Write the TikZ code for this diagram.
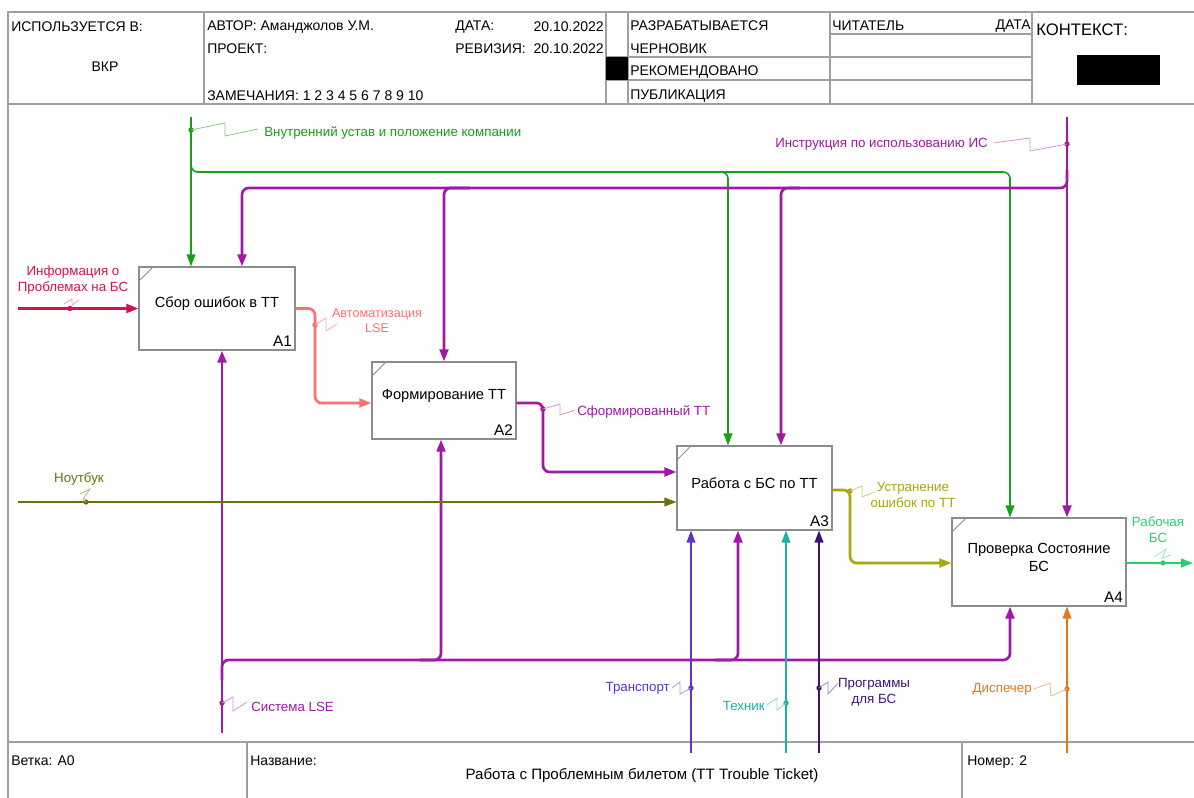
\documentclass[tikz,border=0pt]{standalone}
\usepackage{fontspec}
\setmainfont{Liberation Sans}
\usetikzlibrary{arrows.meta,calc}
\definecolor{framegray}{RGB}{160,160,160}
\definecolor{boxgray}{RGB}{140,140,140}
\definecolor{cred}{RGB}{212,20,72}
\definecolor{csalmon}{RGB}{255,112,112}
\definecolor{cpurple}{RGB}{160,24,165}
\definecolor{cgreen}{RGB}{24,160,24}
\definecolor{colive}{RGB}{110,110,20}
\definecolor{colivel}{RGB}{168,168,10}
\definecolor{cgreenl}{RGB}{40,208,110}
\definecolor{ctrans}{RGB}{92,52,200}
\definecolor{ctech}{RGB}{30,172,172}
\definecolor{cprog}{RGB}{62,20,112}
\definecolor{cdisp}{RGB}{225,120,30}
\tikzset{
  frameline/.style={draw=framegray, line width=0.8pt},
  hdr/.style={font=\fontsize{10.5}{12}\selectfont, inner sep=0pt},
  lbl/.style={font=\fontsize{10}{12}\selectfont, inner sep=0pt, align=center},
  fbox/.style={draw=boxgray, line width=0.8pt, fill=white, rectangle, inner sep=0pt},
  btext/.style={font=\fontsize{11}{14}\selectfont, align=center, yshift=3.5pt},
  anum/.style={font=\fontsize{11.5}{13}\selectfont, anchor=south east, inner sep=2.5pt},
  arr/.style={-{Triangle[length=9pt,width=6.5pt]}},
  thickc/.style={line width=2pt},
  thinc/.style={line width=1.2pt},
  rc/.style={rounded corners=5pt},
  sq/.style={line width=0.6pt},
  dotc/.style={radius=2pt},
}
\begin{document}
\begin{tikzpicture}[x=0.75pt,y=-0.75pt]
\useasboundingbox (0,0) rectangle (1194,798);
\clip (0,0) rectangle (1194,798);
\fill[white] (0,0) rectangle (1194,798);
% frame
\draw[frameline] (8,805) -- (8,12) -- (1200,12);
\draw[frameline] (8,104) -- (1200,104);
\draw[frameline] (8,742) -- (1200,742);
\draw[frameline] (204,12) -- (204,104);
\draw[frameline] (606,12) -- (606,104);
\draw[frameline] (628,12) -- (628,104);
\draw[frameline] (830,12) -- (830,104);
\draw[frameline] (1032,12) -- (1032,104);
\draw[frameline] (830,34) -- (1032,34);
\draw[frameline] (606,57) -- (1032,57);
\draw[frameline] (606,80) -- (1032,80);
\draw[frameline] (247,742) -- (247,805);
\draw[frameline] (962,742) -- (962,805);
\fill[black] (606,57) rectangle (628,80);
\fill[black] (1077,55) rectangle (1160,85);
% header text
\node[hdr, anchor=west] (h1) at (11,27) {ИСПОЛЬЗУЕТСЯ В:};
\node[hdr] (h2) at (105,67) {ВКР};
\node[hdr, anchor=west] (h3) at (207,27) {АВТОР: Аманджолов У.М.};
\node[hdr, anchor=west] (h4) at (207,49) {ПРОЕКТ:};
\node[hdr, anchor=west] (h5) at (207,96) {ЗАМЕЧАНИЯ: 1 2 3 4 5 6 7 8 9 10};
\node[hdr, anchor=west] (h6) at (455,27) {ДАТА:};
\node[hdr, anchor=east] (h7) at (604,27) {20.10.2022};
\node[hdr, anchor=west] (h8) at (455,49) {РЕВИЗИЯ:};
\node[hdr, anchor=east] (h9) at (604,49) {20.10.2022};
\node[hdr, anchor=west] (h10) at (630,26) {РАЗРАБАТЫВАЕТСЯ};
\node[hdr, anchor=west] (h11) at (630,49) {ЧЕРНОВИК};
\node[hdr, anchor=west] (h12) at (630,72) {РЕКОМЕНДОВАНО};
\node[hdr, anchor=west] (h13) at (630,96) {ПУБЛИКАЦИЯ};
\node[hdr, anchor=west] (h14) at (832,26) {ЧИТАТЕЛЬ};
\node[hdr, anchor=east] (h15) at (1031,26) {ДАТА};
\node[hdr, anchor=west, font=\fontsize{12.5}{14}\selectfont] (h16) at (1036,30) {КОНТЕКСТ:};
% footer text
\node[hdr, anchor=west] (f1) at (11,761) {Ветка: А0};
\node[hdr, anchor=west] (f2) at (250,761) {Название:};
\node[hdr, font=\fontsize{11.3}{13}\selectfont] (f3) at (642,776) {Работа с Проблемным билетом (TT Trouble Ticket)};
\node[hdr, anchor=west] (f4) at (967,762) {Номер: 2};
% boxes
\node[fbox, minimum width=156*0.75pt, minimum height=83*0.75pt,
  label={[btext]center:Сбор ошибок в ТТ}, label={[anum]south east:A1}] (A1) at (217,308.5) {};
\node[fbox, minimum width=144*0.75pt, minimum height=77*0.75pt,
  label={[btext]center:Формирование ТТ}, label={[anum]south east:A2}] (A2) at (444,400.5) {};
\node[fbox, minimum width=155*0.75pt, minimum height=84*0.75pt,
  label={[btext]center:Работа с БС по ТТ}, label={[anum]south east:A3}] (A3) at (754.5,488) {};
\node[fbox, minimum width=174*0.75pt, minimum height=88*0.75pt,
  label={[btext]center:Проверка Состояние\\БС}, label={[anum]south east:A4}] (A4) at (1039,562) {};
\foreach \b in {A1,A2,A3,A4}
  \draw[boxgray, line width=0.6pt] ($(\b.north west)+(1,14)$) -- ($(\b.north west)+(14,1)$);
% ---- controls
\coordinate (gin) at (191,117);
\draw[cgreen, thinc, arr] (gin) -- (gin |- A1.north);
\draw[cgreen, thinc, arr, rc] (191,150) -- (191,172) -- (1010,172) -- (1010,0 |- A4.north);
\draw[cgreen, thinc, arr, rc] (700,172) -- (728,172) -- (728,0 |- A3.north);
\fill[cgreen] (191,130) circle[dotc];
\draw[cgreen!55, sq] (191,130) -- (225,123) -- (225,136) -- (258,129);
\node[lbl, text=cgreen, anchor=west] (l1) at (264,133) {Внутренний устав и положение компании};

\coordinate (pin) at (1067,117);
\draw[cpurple, thickc, arr] (pin) -- (pin |- A4.north);
\draw[cpurple, thickc, arr, rc] (1067,170) -- (1067,188) -- (242,188) -- (242,0 |- A1.north);
\draw[cpurple, thickc, arr, rc] (470,188) -- (444,188) -- (444,0 |- A2.north);
\draw[cpurple, thickc, arr, rc] (800,188) -- (781,188) -- (781,0 |- A3.north);
\fill[cpurple] (1067,144) circle[dotc];
\draw[cpurple!45, sq] (993,143) -- (1030,138) -- (1030,151) -- (1067,144);
\node[lbl, text=cpurple, anchor=east] (l2) at (988,144) {Инструкция по использованию ИС};
% ---- mechanisms
\coordinate (mlse) at (222,733);
\draw[cpurple, thickc, arr] (mlse) -- (mlse |- A1.south);
\draw[cpurple, thickc, arr, rc] (222,680) -- (222,660) -- (1010,660) -- (1010,0 |- A4.south);
\draw[cpurple, thickc, arr, rc] (420,660) -- (441,660) -- (441,0 |- A2.south);
\draw[cpurple, thickc, arr, rc] (715,660) -- (738,660) -- (738,0 |- A3.south);
\fill[cpurple] (222,703) circle[dotc];
\draw[cpurple!45, sq] (222,703) -- (233,697) -- (233,711) -- (247,702);
\node[lbl, text=cpurple, anchor=west] (l3) at (251,707) {Система LSE};

\coordinate (mtr) at (691,753);
\draw[ctrans, thinc, arr] (mtr) -- (mtr |- A3.south);
\fill[ctrans] (691,688) circle[dotc];
\draw[ctrans!50, sq] (672,688) -- (680,682) -- (680,694) -- (691,688);
\node[lbl, text=ctrans, anchor=east] (l4) at (670,688) {Транспорт};

\coordinate (mte) at (786,753);
\draw[ctech, thinc, arr] (mte) -- (mte |- A3.south);
\fill[ctech] (786,703) circle[dotc];
\draw[ctech!50, sq] (767,705) -- (777,698) -- (777,710) -- (786,703);
\node[lbl, text=ctech, anchor=east] (l5) at (765,706) {Техник};

\coordinate (mpr) at (819,753);
\draw[cprog, thinc, arr] (mpr) -- (mpr |- A3.south);
\fill[cprog] (819,688) circle[dotc];
\draw[cprog!50, sq] (819,688) -- (828,682) -- (828,694) -- (838,683);
\node[lbl, text=cprog] (l6) at (874,692) {Программы\\для БС};

\coordinate (mdi) at (1067,753);
\draw[cdisp, thinc, arr] (mdi) -- (mdi |- A4.south);
\fill[cdisp] (1067,689) circle[dotc];
\draw[cdisp!50, sq] (1034,689) -- (1050,683) -- (1051,696) -- (1067,689);
\node[lbl, text=cdisp, anchor=east] (l7) at (1032,689) {Диспечер};
% ---- inputs / outputs
\coordinate (iin) at (18,308.5);
\draw[cred, thickc, arr] (iin) -- (A1.west);
\fill[cred] (70,308.5) circle[dotc];
\draw[cred!40, sq] (64,304) -- (72,299) -- (72,305) -- (79,300);
\node[lbl, text=cred] (l8) at (73,280) {Информация о\\Проблемах на БС};

\coordinate (nin) at (18,502);
\draw[colive, thinc, arr] (nin) -- (A3.west |- nin);
\fill[colive] (86,502) circle[dotc];
\draw[colive!50, sq] (80,494) -- (90,489) -- (83,499) -- (86,502);
\node[lbl, text=colive] (l9) at (79,479) {Ноутбук};

\draw[csalmon, thickc, arr, rc] (A1.east) -- (315,308.5) -- (315,403) -- (A2.west |- 0,403);
\fill[csalmon] (315,325) circle[dotc];
\draw[csalmon!60, sq] (315,325) -- (326,318) -- (326,331) -- (337,324);
\node[lbl, text=csalmon, font=\fontsize{9.5}{11}\selectfont] (l10) at (377,320.5) {Автоматизация\\LSE};

\draw[cpurple, thickc, arr, rc] (A2.east |- 0,403) -- (543,403) -- (543,472) -- (A3.west |- 0,472);
\fill[cpurple] (543,409) circle[dotc];
\draw[cpurple!45, sq] (543,409) -- (560,404) -- (560,415) -- (575,410);
\node[lbl, text=cpurple, anchor=west] (l11) at (577,412) {Сформированный ТТ};

\draw[colivel, thickc, arr, rc] (A3.east |- 0,490) -- (850,490) -- (850,563) -- (A4.west |- 0,563);
\fill[colivel] (850,491) circle[dotc];
\draw[colivel!55, sq] (850,491) -- (862,486) -- (862,497) -- (875,492);
\node[lbl, text=colivel] (l12) at (913,495) {Устранение\\ошибок по ТТ};

\coordinate (oout) at (1193,563);
\draw[cgreenl, line width=1.5pt, arr] (A4.east |- oout) -- (oout);
\fill[cgreenl] (1163,563) circle[dotc];
\draw[cgreenl!50, sq] (1154,557) -- (1166,549) -- (1162,558) -- (1171,555);
\node[lbl, text=cgreenl] (l13) at (1158,530) {Рабочая\\БС};
\end{tikzpicture}
\end{document}
